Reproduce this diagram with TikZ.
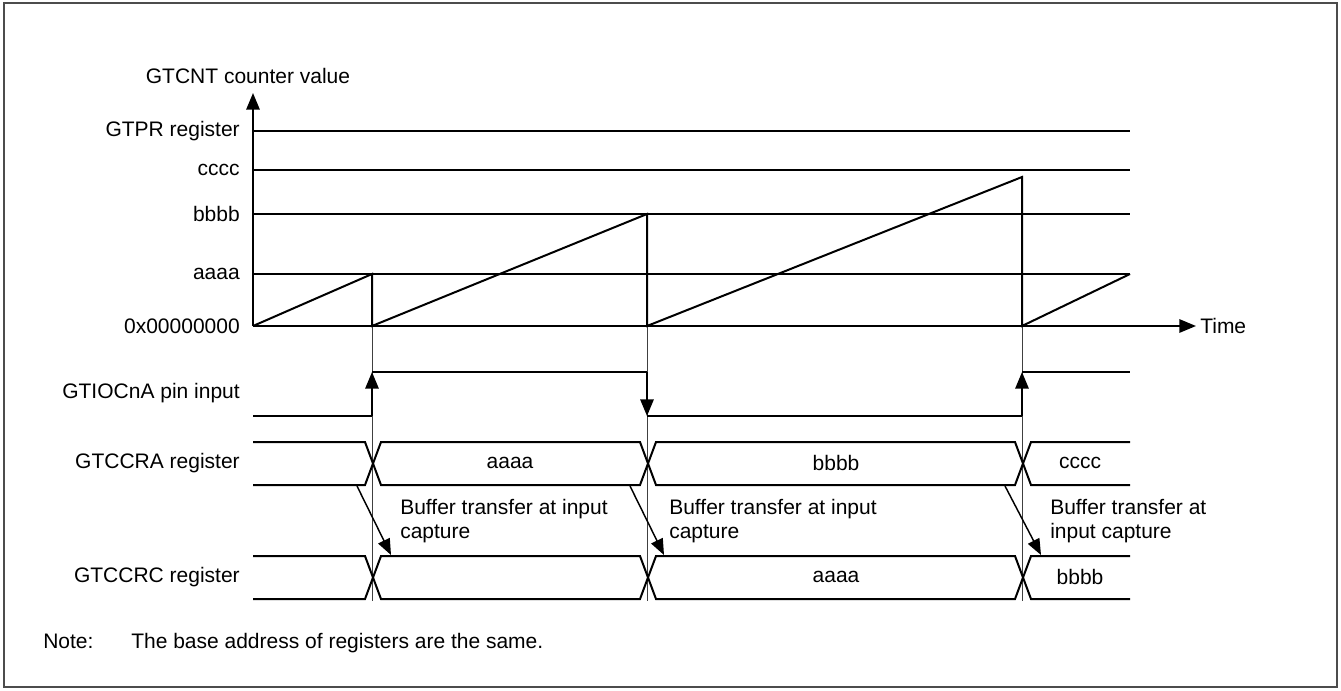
\documentclass[tikz,border=0pt]{standalone}
\usepackage{fontspec}
\setmainfont{Liberation Sans}
\usetikzlibrary{arrows.meta}
\begin{document}
\begin{tikzpicture}[x=0.75pt,y=-0.75pt,
  lbl/.style={font=\fontsize{15.75}{18}\selectfont, inner sep=0pt},
  gridline/.style={line width=0.8pt},
  sig/.style={line width=1.5pt},
  guide/.style={line width=0.75pt, black!75},
  tipend/.style={-{Triangle[length=12.5pt,width=10pt]}},
  diag/.style={line width=1.1pt,-{Triangle[length=12pt,width=9.5pt]}}]
\useasboundingbox (0,0) rectangle (1341,690);
\draw[line width=1.6pt, black!70] (4,3) rectangle (1337,687);

% coordinates
\coordinate (o) at (253,326);
\coordinate (ytop) at (253,93);
\coordinate (tend) at (1196,326);
\coordinate (t1) at (372,326);
\coordinate (t2) at (647,326);
\coordinate (t3) at (1022,326);

% level lines
\foreach \yy in {131,170,214,274} \draw[gridline] (253,\yy) -- (1130,\yy);

% guides
\foreach \tx in {372,647,1022} \draw[guide] (\tx,326) -- (\tx,601);

% axes
\draw[sig,tipend] (o) -- (ytop);
\draw[sig,tipend] (o) -- (tend);
\node[lbl,anchor=west] (time) at (1200,326) {Time};
\node[lbl,anchor=base] (ylab) at (248,83) {GTCNT counter value};

% level labels
\node[lbl,anchor=east] (lgtpr) at (240,131) {GTPR register};
\node[lbl,anchor=east] (lc) at (240,170) {cccc};
\node[lbl,anchor=east] (lb) at (240,214) {bbbb};
\node[lbl,anchor=east] (la) at (240,274) {aaaa};
\node[lbl,anchor=east] (lz) at (240,326) {0x00000000};

% sawtooth
\draw[sig,line join=miter] (o) -- (372,274) -- (t1) -- (647,214) -- (t2) -- (1022,177) -- (t3) -- (1130,274);

% pin input
\node[lbl,anchor=east] (lpin) at (240,393) {GTIOCnA pin input};
\draw[sig] (253,416) -- (372,416);
\draw[sig,tipend] (372,416) -- (372,372);
\draw[sig] (372,372) -- (647,372);
\draw[sig,tipend] (647,372) -- (647,416);
\draw[sig] (647,416) -- (1022,416);
\draw[sig,tipend] (1022,416) -- (1022,372);
\draw[sig] (1022,372) -- (1130,372);

% GTCCRA bus
\node[lbl,anchor=east] (lra) at (240,463) {GTCCRA register};
\draw[sig,line join=miter] (253,442) -- (365,442) -- (381,485) -- (640,485) -- (656,442) -- (1015,442) -- (1031,485) -- (1130,485);
\draw[sig,line join=miter] (253,485) -- (365,485) -- (381,442) -- (640,442) -- (656,485) -- (1015,485) -- (1031,442) -- (1130,442);
\node[lbl] (ra1) at (510,463) {aaaa};
\node[lbl] (ra2) at (836,463) {bbbb};
\node[lbl] (ra3) at (1080,463) {cccc};

% GTCCRC bus
\node[lbl,anchor=east] (lrc) at (240,577) {GTCCRC register};
\draw[sig,line join=miter] (253,556) -- (365,556) -- (381,599) -- (640,599) -- (656,556) -- (1015,556) -- (1031,599) -- (1130,599);
\draw[sig,line join=miter] (253,599) -- (365,599) -- (381,556) -- (640,556) -- (656,599) -- (1015,599) -- (1031,556) -- (1130,556);
\node[lbl] (rc2) at (836,577) {aaaa};
\node[lbl] (rc3) at (1080,577) {bbbb};

% buffer transfer arrows
\coordinate (a1s) at (357,486); \coordinate (a1e) at (391,555);
\coordinate (a2s) at (630,486); \coordinate (a2e) at (664,555);
\coordinate (a3s) at (1005,486); \coordinate (a3e) at (1041,555);
\draw[diag] (a1s) -- (a1e);
\draw[diag] (a2s) -- (a2e);
\draw[diag] (a3s) -- (a3e);
\node[lbl,anchor=west,align=left] (b1) at (400,521) {Buffer transfer at input\\capture};
\node[lbl,anchor=west,align=left] (b2) at (669,521) {Buffer transfer at input\\capture};
\node[lbl,anchor=west,align=left] (b3) at (1050,521) {Buffer transfer at\\input capture};

% note
\node[lbl,anchor=base west] (note) at (43,648) {Note:};
\node[lbl,anchor=base west] (notetxt) at (131,648) {The base address of registers are the same.};
\end{tikzpicture}
\end{document}
